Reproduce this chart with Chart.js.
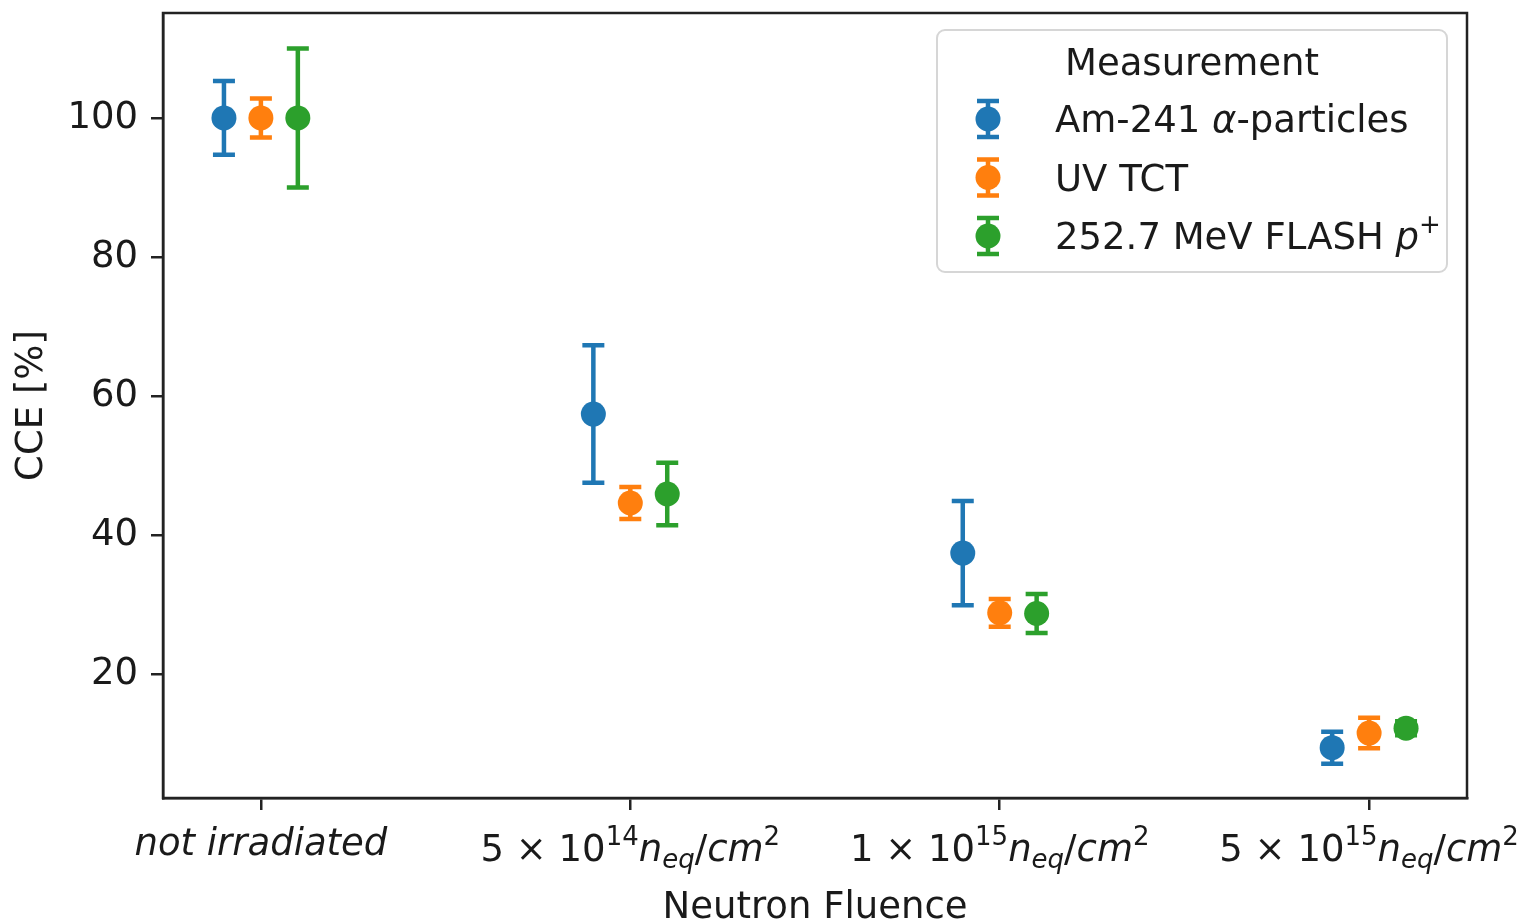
<!DOCTYPE html>
<html>
<head>
<meta charset="utf-8">
<script src="https://cdn.jsdelivr.net/npm/chart.js@4/dist/chart.umd.min.js"></script>
<style>
  html, body { margin: 0; padding: 0; background: #fff; }
  #wrap { width: 1521px; height: 922px; position: relative; }
</style>
</head>
<body>
<div id="wrap"><canvas id="cce-chart"></canvas></div>
<script>
// Data
const fluencePositions = [0, 1, 2, 3];
const seriesNames = ['Am-241 α-particles', 'UV TCT', '252.7 MeV FLASH p+'];
const amValues = [100, 57.4, 37.4, 9.4];
const amErrors = [5.3, 9.9, 7.5, 2.3];
const uvValues = [100, 44.6, 28.8, 11.5];
const uvErrors = [2.8, 2.3, 2.0, 2.2];
const flashValues = [100, 45.9, 28.7, 12.2];
const flashErrors = [10.0, 4.5, 2.8, 1.0];
const yTickValues = [20, 40, 60, 80, 100];
// tick labels as rich text segments (it = italic, sup/sub = script)
const tickLabels = [
    [{ t: 'not irradiated', it: true }],
    [{ t: '5 × 10' }, { t: '14', sup: true }, { t: 'n', it: true }, { t: 'eq', it: true, sub: true }, { t: '/' }, { t: 'cm', it: true }, { t: '2', sup: true }],
    [{ t: '1 × 10' }, { t: '15', sup: true }, { t: 'n', it: true }, { t: 'eq', it: true, sub: true }, { t: '/' }, { t: 'cm', it: true }, { t: '2', sup: true }],
    [{ t: '5 × 10' }, { t: '15', sup: true }, { t: 'n', it: true }, { t: 'eq', it: true, sub: true }, { t: '/' }, { t: 'cm', it: true }, { t: '2', sup: true }]
];
const legendLabels = [
    [{ t: 'Am-241 ' }, { t: 'α', it: true }, { t: '-particles' }],
    [{ t: 'UV TCT' }],
    [{ t: '252.7 MeV FLASH ' }, { t: 'p', it: true }, { t: '+', sup: true }]
];

const colors = ['#1f77b4', '#ff7f0e', '#2ca02c'];
const dodge = [-0.1, 0, 0.1];
const FONT = 'DejaVu Sans';
const FS = 37;
const INK = '#1a1a1a';

Chart.defaults.font.family = FONT;
Chart.defaults.color = INK;

// Rich text helper
function segFont(s) {
    const size = (s.sup || s.sub) ? Math.round(FS * 0.7) : FS;
    return (s.it ? 'italic ' : '') + size + 'px "' + FONT + '"';
}
function drawRich(ctx, segs, x, baseline, align) {
    let total = 0;
    segs.forEach(s => { ctx.font = segFont(s); total += ctx.measureText(s.t).width; });
    let cx = align === 'left' ? x : x - total / 2;
    ctx.textAlign = 'left';
    ctx.textBaseline = 'alphabetic';
    segs.forEach(s => {
        ctx.font = segFont(s);
        let dy = 0;
        if (s.sup) dy = -16;
        if (s.sub) dy = 7;
        ctx.fillText(s.t, cx, baseline + dy);
        cx += ctx.measureText(s.t).width;
    });
}

function drawErrorBar(ctx, x, yTop, yBot, color) {
    ctx.strokeStyle = color;
    ctx.lineWidth = 4.5;
    ctx.beginPath();
    ctx.moveTo(x, yTop); ctx.lineTo(x, yBot);
    ctx.moveTo(x - 11, yTop); ctx.lineTo(x + 11, yTop);
    ctx.moveTo(x - 11, yBot); ctx.lineTo(x + 11, yBot);
    ctx.stroke();
}

// Error bars under the markers
const errorBarPlugin = {
    id: 'errorBars',
    beforeDatasetsDraw(chart) {
        const ctx = chart.ctx;
        const yScale = chart.scales.y;
        ctx.save();
        chart.data.datasets.forEach((ds, i) => {
            const meta = chart.getDatasetMeta(i);
            meta.data.forEach((pt, j) => {
                const v = ds.data[j].y, e = ds.errors[j];
                drawErrorBar(ctx, pt.x, yScale.getPixelForValue(v + e), yScale.getPixelForValue(v - e), colors[i]);
            });
        });
        ctx.restore();
    }
};

// Frame, x tick labels and legend box
const decorPlugin = {
    id: 'decor',
    afterDraw(chart) {
        const ctx = chart.ctx;
        const a = chart.chartArea;
        const xs = chart.scales.x;
        ctx.save();
        ctx.strokeStyle = '#222';
        ctx.lineWidth = 2.5;
        ctx.strokeRect(a.left, a.top, a.right - a.left, a.bottom - a.top);

        ctx.fillStyle = INK;
        tickLabels.forEach((segs, i) => {
            const x = xs.getPixelForValue(fluencePositions[i]);
            const base = segs.length > 1 ? a.bottom + 63 : a.bottom + 57;
            drawRich(ctx, segs, x, base, 'center');
        });

        // legend
        const L = a.right - 20 - 510, T = a.top + 17, W = 510, H = 242;
        ctx.beginPath();
        ctx.roundRect(L, T, W, H, 8);
        ctx.fillStyle = 'rgba(255,255,255,0.8)';
        ctx.fill();
        ctx.strokeStyle = '#d6d6d6';
        ctx.lineWidth = 2;
        ctx.stroke();

        ctx.fillStyle = INK;
        ctx.font = FS + 'px "' + FONT + '"';
        ctx.textAlign = 'center';
        ctx.textBaseline = 'alphabetic';
        ctx.fillText('Measurement', L + W / 2, T + 45);

        legendLabels.forEach((segs, i) => {
            const cy = T + 89 + i * 58.5;
            const mx = L + 51;
            drawErrorBar(ctx, mx, cy - 18, cy + 18, colors[i]);
            ctx.beginPath();
            ctx.arc(mx, cy, 12.5, 0, Math.PI * 2);
            ctx.fillStyle = colors[i];
            ctx.fill();
            ctx.fillStyle = INK;
            drawRich(ctx, segs, L + 118, cy + 13, 'left');
        });
        ctx.restore();
    }
};

function makeSet(label, values, errors, idx) {
    return {
        label: label,
        data: fluencePositions.map((p, j) => ({ x: p + dodge[idx], y: values[j] })),
        errors: errors,
        backgroundColor: colors[idx],
        borderWidth: 0,
        pointRadius: 12.5,
        pointHoverRadius: 12.5,
        showLine: false
    };
}

function noEdgePadding(s) {
    s.paddingTop = 0; s.paddingBottom = 0; s.paddingLeft = 0; s.paddingRight = 0;
}

const chart = new Chart(document.getElementById('cce-chart'), {
    type: 'scatter',
    data: {
        datasets: [
            makeSet(seriesNames[0], amValues, amErrors, 0),
            makeSet(seriesNames[1], uvValues, uvErrors, 1),
            makeSet(seriesNames[2], flashValues, flashErrors, 2)
        ]
    },
    options: {
        responsive: true,
        maintainAspectRatio: false,
        animation: false,
        layout: { padding: { top: 13, right: 54, left: 0, bottom: 0 } },
        plugins: {
            legend: { display: false },
            tooltip: { enabled: false }
        },
        scales: {
            x: {
                type: 'linear',
                min: -0.265,
                max: 3.265,
                afterBuildTicks: s => { s.ticks = fluencePositions.map(v => ({ value: v })); },
                afterFit: s => { s.height = 124; noEdgePadding(s); },
                ticks: { display: false },
                grid: { display: true, drawOnChartArea: false, drawTicks: true, tickLength: 12, color: '#222', lineWidth: 2.5 },
                border: { display: true, color: '#222', width: 2.5 },
                title: { display: true, text: 'Neutron Fluence', color: INK, font: { size: FS, lineHeight: 0.75 }, padding: 0 }
            },
            y: {
                min: 2.16,
                max: 115.1,
                afterBuildTicks: s => { s.ticks = yTickValues.map(v => ({ value: v })); },
                afterFit: s => { s.width = 163; noEdgePadding(s); },
                ticks: { font: { size: FS }, color: INK, padding: 13 },
                grid: { display: true, drawOnChartArea: false, drawTicks: true, tickLength: 12, color: '#222', lineWidth: 2.5 },
                border: { display: true, color: '#222', width: 2.5 },
                title: { display: true, text: 'CCE [%]', color: INK, font: { size: FS, lineHeight: 1.2 }, padding: { top: 10, bottom: 0 } }
            }
        }
    },
    plugins: [errorBarPlugin, decorPlugin]
});
</script>
</body>
</html>
